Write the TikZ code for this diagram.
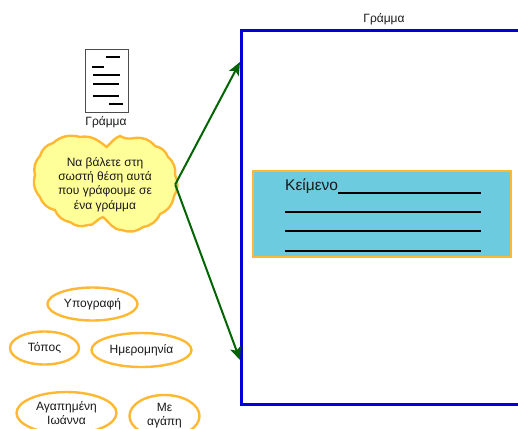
\documentclass[tikz,border=0pt]{standalone}
\usepackage{fontspec}
\setmainfont{Liberation Sans}
\usetikzlibrary{shapes.geometric,arrows.meta}
\definecolor{gold}{RGB}{255,184,51}
\definecolor{cloudfill}{RGB}{255,255,153}
\definecolor{teal}{RGB}{108,203,222}
\definecolor{framecol}{RGB}{0,0,214}
\definecolor{arrowcol}{RGB}{0,100,0}
\tikzset{
  every node/.style={font=\fontsize{12}{14.2}\selectfont, text=black!90},
  pill/.style={ellipse, draw=gold, line width=2.4pt, fill=white, inner sep=0pt, align=center},
  plain/.style={inner sep=0pt, align=center},
  rule/.style={draw=black, line width=1.5pt},
  docrule/.style={draw=black, line width=2pt},
  conn/.style={draw=arrowcol, line width=2pt, -{Stealth[length=13pt,width=11pt,inset=3pt]}},
  scallop/.style={bend right=28}
}
\begin{document}
\begin{tikzpicture}[x=1pt,y=-1pt]
\useasboundingbox (0,0) rectangle (518,428);
% frame
\node[draw=framecol, line width=2.6pt, fill=white, minimum width=300pt, minimum height=374pt, inner sep=0pt, anchor=north west] (frame) at (240.2,29.2) {};
\node[plain] (frametitle) at (384,19.5) {Γράμμα};
\coordinate (tipA) at (240,62);
\coordinate (tipB) at (240,360);
% text panel
\node[draw=gold, line width=2.5pt, fill=teal, minimum width=258pt, minimum height=86pt, inner sep=0pt, anchor=north west] (panel) at (251.8,169.8) {};
\node[plain, anchor=base west, font=\fontsize{15.5}{18}\selectfont] (keimeno) at (285,190) {Κείμενο};
\coordinate (l1a) at (338,193); \coordinate (l1b) at (481,193);
\coordinate (l2a) at (285,212); \coordinate (l2b) at (481,212);
\coordinate (l3a) at (285,231); \coordinate (l3b) at (481,231);
\coordinate (l4a) at (285,251); \coordinate (l4b) at (481,251);
\draw[rule] (l1a) -- (l1b);
\draw[rule] (l2a) -- (l2b);
\draw[rule] (l3a) -- (l3b);
\draw[rule] (l4a) -- (l4b);
% document icon
\node[draw=black!70, line width=0.9pt, fill=white, minimum width=43pt, minimum height=63pt, inner sep=0pt, anchor=north west] (doc) at (85,48.5) {};
\draw[docrule] (106,57) -- (120,57);
\draw[docrule] (92,67) -- (104,67);
\draw[docrule] (93,75) -- (120,75);
\draw[docrule] (93,84) -- (119,84);
\draw[docrule] (93,96) -- (119,96);
\draw[docrule] (109,104) -- (123,104);
\node[plain] (doclabel) at (106,122) {Γράμμα};
% cloud
\draw[draw=gold, line width=2.4pt, fill=cloudfill]
  (106.5,147) to[out=140,in=10] (80,137)
  to[scallop] (53,143) to[scallop] (40,156) to[scallop] (35,175)
  to[scallop] (40,197) to[scallop] (55,210) to[scallop] (70,222)
  to[scallop] (88,225) to[out=-20,in=190,looseness=0.8] (103,217)
  to[out=-40,in=180] (122,230) to[scallop] (143,227) to[scallop] (160,214)
  to[scallop] (174,196) to[scallop] (175,175) to[scallop] (168,157)
  to[scallop] (155,146) to[scallop] (135,138) to[out=190,in=-30] (120,136)
  to[out=200,in=40] cycle;
\node[plain, minimum width=140pt] (cloud) at (105,184.5) {Να βάλετε στη\\σωστή θέση αυτά\\που γράφουμε σε\\ένα γράμμα};
% connectors
\draw[conn] (cloud.east) -- (tipA);
\draw[conn] (cloud.east) -- (tipB);
% ellipses
\node[pill, minimum width=90pt, minimum height=33pt] (sig) at (92.5,304) {Υπογραφή};
\node[pill, minimum width=69pt, minimum height=33pt] (place) at (44.5,348) {Τόπος};
\node[pill, minimum width=100pt, minimum height=34pt] (date) at (141.5,350) {Ημερομηνία};
\node[pill, minimum width=100pt, minimum height=42pt] (dear) at (66.5,413) {Αγαπημένη\\Ιωάννα};
\node[pill, minimum width=70pt, minimum height=42pt] (love) at (164.5,416) {Με\\αγάπη};
\end{tikzpicture}
\end{document}
